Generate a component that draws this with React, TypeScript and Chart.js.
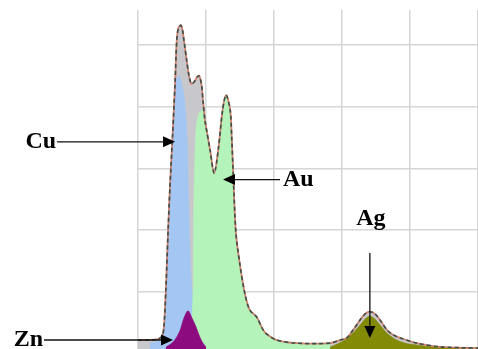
import React, { useEffect, useRef } from "react";
import { Chart, registerables } from "chart.js";

Chart.register(...registerables);

// Energy axis (grid every 2 units) and counts axis (grid every 1000)
const xTicksStep = 2;
const xMin = 0;
const xMax = 10;
const yMin = 70;
const yMax = 5567;
const yGridTicks = [1000, 2000, 3000, 4000, 5000];

// Total fitted spectrum
const sumX = [0, 0.35, 0.59, 0.71, 0.76, 0.82, 0.88, 0.94, 1.02, 1.09, 1.14, 1.19, 1.26, 1.31, 1.35, 1.43, 1.5, 1.57, 1.65, 1.74, 1.8, 1.87, 1.91, 1.97, 2.12, 2.24, 2.36, 2.49, 2.59, 2.71, 2.76, 2.8, 2.88, 3.0, 3.15, 3.29, 3.49, 3.68, 3.79, 4.08, 4.67, 5.65, 5.94, 6.14, 6.33, 6.53, 6.68, 6.82, 6.97, 7.12, 7.32, 7.5, 7.71, 8.2, 8.88, 10];
const sumY = [215, 215, 230, 280, 410, 1030, 1920, 2700, 3570, 4380, 5080, 5280, 5320, 5240, 5080, 4760, 4500, 4370, 4400, 4480, 4500, 4350, 4110, 3780, 3300, 2920, 3300, 3950, 4190, 3950, 3460, 2920, 1950, 1430, 950, 700, 590, 380, 310, 215, 165, 165, 215, 250, 380, 540, 640, 675, 640, 540, 380, 300, 250, 165, 105, 85];

// Cu component
const cuX = [0.35, 0.59, 0.71, 0.76, 0.82, 0.88, 0.94, 1.02, 1.09, 1.15, 1.21, 1.26, 1.35, 1.41, 1.46, 1.49, 1.53, 1.59, 1.68, 1.79, 1.97, 2.12, 2.71];
const cuY = [167, 200, 248, 378, 994, 1886, 2649, 3519, 4302, 4464, 4497, 4432, 4189, 3865, 3297, 2486, 1675, 1026, 621, 345, 200, 167, 135];

// Au component
const auX = [1.47, 1.56, 1.62, 1.63, 1.65, 1.68, 1.72, 1.79, 1.88, 1.94, 2.0, 2.12, 2.24, 2.36, 2.49, 2.59, 2.71, 2.76, 2.8, 2.88, 3.0, 3.15, 3.29, 3.49, 3.68, 3.79, 4.08, 4.67, 5.65];
const auY = [167, 378, 1026, 1837, 2649, 3297, 3702, 3881, 3945, 3897, 3751, 3297, 2924, 3297, 3945, 4189, 3945, 3459, 2924, 1950, 1432, 945, 702, 589, 378, 313, 216, 167, 150];

// Zn component
const znX = [0.82, 1.0, 1.12, 1.24, 1.35, 1.47, 1.59, 1.71, 1.82, 1.91, 2.0];
const znY = [102, 167, 248, 378, 572, 690, 572, 426, 264, 167, 102];

// Ag component
const agX = [5.65, 6.03, 6.32, 6.53, 6.68, 6.82, 6.97, 7.12, 7.32, 7.56, 7.85, 8.21, 8.88, 10];
const agY = [102, 200, 329, 459, 556, 605, 556, 459, 329, 232, 167, 135, 94, 78];

// Peak labels and the points their arrows point at
const labelNames = ["Cu", "Zn", "Au", "Ag"];
const labelTipX = [1.09, 1.03, 2.5, 6.82];
const labelTipY = [3430, 216, 2818, 248];
const labelDir = ["left", "left", "right", "up"];
const labelTail = [118, 129, 57, 85];

const pts = (xs: number[], ys: number[]) => xs.map((x, i) => ({ x, y: ys[i] }));

const annotationPlugin = {
  id: "peakLabels",
  afterDatasetsDraw(chart: any) {
    const { ctx, scales } = chart;
    const xs = scales.x;
    const ys = scales.y;
    ctx.save();
    ctx.fillStyle = "#000";
    ctx.strokeStyle = "#111";
    ctx.lineWidth = 1.3;
    ctx.font = 'bold 24px "Liberation Serif", "DejaVu Serif", serif';
    const head = 12;
    const hw = 5.5;
    labelNames.forEach((name, i) => {
      const tx = xs.getPixelForValue(labelTipX[i]);
      const ty = ys.getPixelForValue(labelTipY[i]);
      const dir = labelDir[i];
      const tail = labelTail[i];
      ctx.beginPath();
      if (dir === "left") {
        const sx = tx - tail;
        ctx.moveTo(sx, ty);
        ctx.lineTo(tx - head, ty);
        ctx.stroke();
        ctx.beginPath();
        ctx.moveTo(tx, ty);
        ctx.lineTo(tx - head, ty - hw);
        ctx.lineTo(tx - head, ty + hw);
        ctx.closePath();
        ctx.fill();
        ctx.textAlign = "right";
        ctx.textBaseline = "alphabetic";
        ctx.fillText(name, sx - 1, ty + 6);
      } else if (dir === "right") {
        const sx = tx + tail;
        ctx.moveTo(sx, ty);
        ctx.lineTo(tx + head, ty);
        ctx.stroke();
        ctx.beginPath();
        ctx.moveTo(tx, ty);
        ctx.lineTo(tx + head, ty - hw);
        ctx.lineTo(tx + head, ty + hw);
        ctx.closePath();
        ctx.fill();
        ctx.textAlign = "left";
        ctx.textBaseline = "alphabetic";
        ctx.fillText(name, sx + 3, ty + 6);
      } else {
        const sy = ty - tail;
        ctx.moveTo(tx, sy);
        ctx.lineTo(tx, ty - head);
        ctx.stroke();
        ctx.beginPath();
        ctx.moveTo(tx, ty);
        ctx.lineTo(tx - hw, ty - head);
        ctx.lineTo(tx + hw, ty - head);
        ctx.closePath();
        ctx.fill();
        ctx.textAlign = "center";
        ctx.textBaseline = "alphabetic";
        ctx.fillText(name, tx + 1, sy - 28);
      }
    });
    ctx.restore();
  },
};

export default function App() {
  const ref = useRef<HTMLCanvasElement | null>(null);
  useEffect(() => {
    document.body.style.margin = "0";
    if (!ref.current) return;
    const area = (color: string, order: number) => ({
      backgroundColor: color,
      borderColor: color,
      borderWidth: 0.5,
      fill: "origin",
      pointRadius: 0,
      tension: 0.3,
      order,
    });
    const chart = new Chart(ref.current, {
      type: "line",
      data: {
        datasets: [
          { label: "Fit", data: pts(sumX, sumY), ...area("rgb(200,200,204)", 10) },
          { label: "Cu", data: pts(cuX, cuY), ...area("rgb(164,198,242)", 9) },
          { label: "Au", data: pts(auX, auY), ...area("rgb(180,244,186)", 8) },
          { label: "Zn", data: pts(znX, znY), ...area("rgb(140,12,128)", 7) },
          { label: "Ag", data: pts(agX, agY), ...area("rgb(130,138,6)", 7) },
          {
            label: "Measured",
            data: pts(sumX, sumY),
            borderColor: "rgba(205,120,100,0.9)",
            borderWidth: 1.8,
            fill: false,
            pointRadius: 0,
            tension: 0.3,
            order: 2,
          },
          {
            label: "Sum",
            data: pts(sumX, sumY),
            borderColor: "rgb(62,78,72)",
            borderWidth: 1.6,
            borderDash: [4, 3],
            fill: false,
            pointRadius: 0,
            tension: 0.3,
            order: 1,
          },
        ],
      } as any,
      options: {
        animation: false,
        responsive: false,
        maintainAspectRatio: false,
        events: [],
        layout: { padding: { left: 138, top: 10, right: 0, bottom: 0 } },
        plugins: { legend: { display: false }, tooltip: { enabled: false } },
        scales: {
          x: {
            type: "linear",
            min: xMin,
            max: xMax,
            ticks: { display: false, stepSize: xTicksStep },
            grid: { color: "rgb(214,214,214)", lineWidth: 1.5, drawTicks: false },
            border: { display: false },
          },
          y: {
            type: "linear",
            min: yMin,
            max: yMax,
            afterBuildTicks: (scale: any) => {
              scale.ticks = yGridTicks.map((v) => ({ value: v }));
            },
            ticks: { display: false },
            grid: { color: "rgb(214,214,214)", lineWidth: 1.5, drawTicks: false },
            border: { display: false },
          },
        },
      } as any,
      plugins: [annotationPlugin],
    });
    return () => chart.destroy();
  }, []);
  return (
    <div style={{ width: 478, height: 349, background: "#fff" }}>
      <canvas ref={ref} width={478} height={349} style={{ display: "block" }} />
    </div>
  );
}
